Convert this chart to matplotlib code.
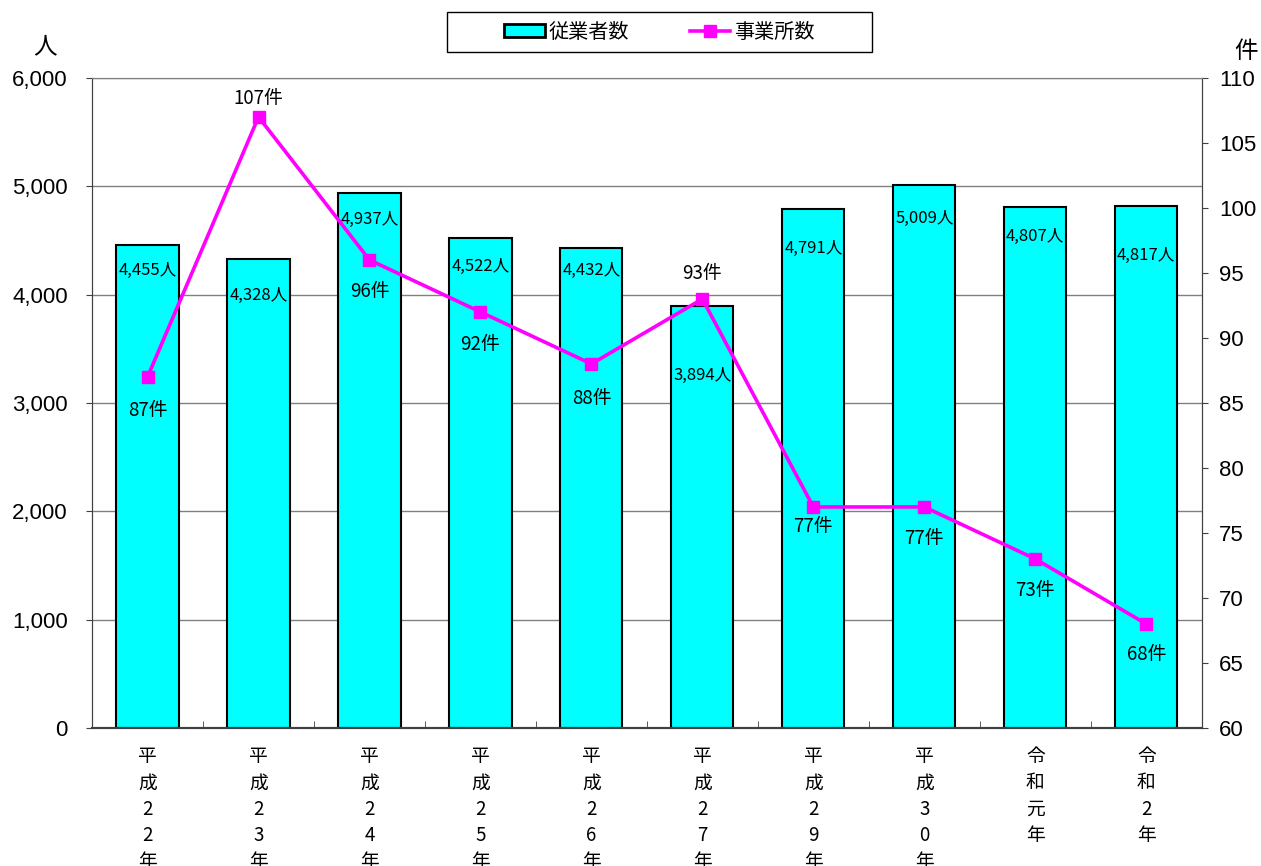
import matplotlib.pyplot as plt
from matplotlib.patches import Patch, Rectangle
from matplotlib.lines import Line2D
import numpy as np

plt.rcParams['font.family'] = ['Noto Sans CJK JP', 'DejaVu Sans']

# データ
years = ["平成22年", "平成23年", "平成24年", "平成25年", "平成26年",
         "平成27年", "平成29年", "平成30年", "令和元年", "令和2年"]
workers = [4455, 4328, 4937, 4522, 4432, 3894, 4791, 5009, 4807, 4817]
offices = [87, 107, 96, 92, 88, 93, 77, 77, 73, 68]

# ラベルの位置 (pixel)
bar_lbl_off = [25, 36, 26, 28, 23, 69, 40, 33, 29, 49]
line_lbl_off = [-34, 18, -32, -33, -35, 25, -20, -32, -32, -31]

num_font = "Liberation Sans"

fig = plt.figure(figsize=(12.61, 8.66), dpi=100)
ax = fig.add_axes([0.073, 0.1594, 0.880, 0.7506])
ax2 = ax.twinx()

x = np.arange(len(years))
ax.bar(x, workers, width=0.56, color="#00FFFF", edgecolor="black", linewidth=1.5, zorder=2)
ax.set_xlim(-0.5, len(years) - 0.5)
ax.set_ylim(0, 6000)
ax.set_yticks(range(0, 6001, 1000))
ax.set_yticklabels([f"{v:,}" for v in range(0, 6001, 1000)], family=num_font, fontsize=16)
ax.yaxis.grid(True, color="#808080", linewidth=1)
ax.set_axisbelow(True)

# 縦書きのラベル
ax.set_xticks(x)
ax.set_xticklabels(["\n".join(y) for y in years], fontsize=13.5, linespacing=1.33, va="top")
ax.tick_params(axis="x", which="major", length=0, pad=13)
ax.set_xticks(np.arange(0.5, len(years) - 0.5, 1), minor=True)
ax.tick_params(axis="x", which="minor", direction="in", length=5, color="#404040")
ax.tick_params(axis="y", length=4.5, color="#404040", pad=13)

for xi, v, off in zip(x, workers, bar_lbl_off):
    ax.annotate(f"{v:,}人", (xi, v), xytext=(0, -off), textcoords="offset pixels",
                ha="center", va="center", fontsize=12, zorder=5)

ax2.plot(x, offices, color="#FF00FF", linewidth=2.6, marker="s", markersize=8, zorder=3)
ax2.set_ylim(60, 110)
ax2.set_yticks(range(60, 111, 5))
ax2.set_yticklabels([str(v) for v in range(60, 111, 5)], family=num_font, fontsize=16)
ax2.tick_params(axis="y", length=4.5, color="#404040", pad=8)

for xi, v, off in zip(x, offices, line_lbl_off):
    ax2.annotate(f"{v}件", (xi, v), xytext=(0, off), textcoords="offset pixels",
                 ha="center", va="center", fontsize=13.5)

for a in (ax, ax2):
    a.spines["top"].set_color("#808080")
    a.spines["left"].set_color("#404040")
    a.spines["right"].set_color("#404040")
    a.spines["bottom"].set_color("#404040")
    a.spines["bottom"].set_linewidth(1.5)

fig.text(0.036, 0.946, "人", fontsize=17, ha="center", va="center")
fig.text(0.988, 0.940, "件", fontsize=17, ha="center", va="center")

# 凡例
handles = [Patch(facecolor="#00FFFF", edgecolor="black", linewidth=2),
           Line2D([], [], color="#FF00FF", linewidth=2.6, marker="s", markersize=8)]
fig.legend(handles, ["従業者数", "事業所数"], ncol=2, loc="center",
           bbox_to_anchor=(0.523, 0.963), fontsize=14.5, frameon=False,
           columnspacing=3.0, handlelength=2.0, handleheight=0.6, handletextpad=0.2)
fig.patches.append(Rectangle((447 / 1261, 1 - 52 / 866), 425 / 1261, 40 / 866,
                             transform=fig.transFigure, fill=False,
                             edgecolor="black", linewidth=1))

fig.savefig("out.png", dpi=100)
